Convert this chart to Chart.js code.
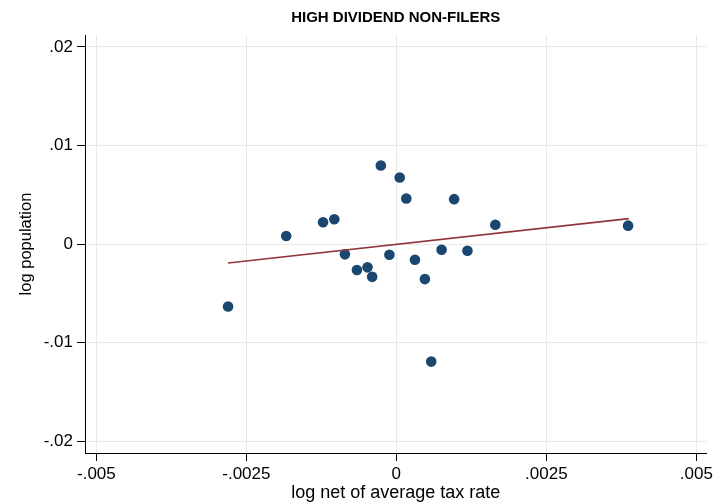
<!DOCTYPE html>
<html>
<head>
<meta charset="utf-8">
<script src="https://cdn.jsdelivr.net/npm/chart.js@4.4.0/dist/chart.umd.min.js"></script>
<style>
    body { margin: 0; background: #fff; }
    canvas { display: block; }
</style>
</head>
<body>
<canvas id="chart" width="716" height="504"></canvas>
<script>
// values
const taxRate = [-0.002805, -0.001836, -0.001222, -0.001034, -0.000857, -0.000657, -0.000481, -0.000403, -0.000259, -0.000116,
    0.000056, 0.000166, 0.000310, 0.000476, 0.000581, 0.000754, 0.000963, 0.001185, 0.001650, 0.003863]
const population = [-0.00634, 0.00081, 0.00221, 0.00251, -0.00105, -0.00264, -0.00237, -0.00333, 0.00797, -0.00109,
    0.00674, 0.00461, -0.00160, -0.00356, -0.01193, -0.00058, 0.00455, -0.00068, 0.00196, 0.00186]
const fitX = [-0.002805, 0.003874]
const fitY = [-0.00193, 0.00257]

const xTickVals = [-0.005, -0.0025, 0, 0.0025, 0.005]
const xTickLabels = ['-.005', '-.0025', '0', '.0025', '.005']
const yTickVals = [-0.02, -0.01, 0, 0.01, 0.02]
const yTickLabels = ['-.02', '-.01', '0', '.01', '.02']

const FONT = "'Liberation Sans', Arial, Helvetica, sans-serif"
const gridColor = '#e9e9e9'

const points = taxRate.map((x, i) => ({ x: x, y: population[i] }))
const fitLine = fitX.map((x, i) => ({ x: x, y: fitY[i] }))

const ctx = document.getElementById('chart').getContext('2d')
const myChart = new Chart(ctx, {
    type: 'scatter',
    data: {
        datasets: [{
            label: 'population',
            data: points,
            backgroundColor: '#1a476f',
            borderColor: '#1a476f',
            pointRadius: 5.3,
            borderWidth: 0,
            order: 2
        }, {
            type: 'line',
            label: 'fit',
            data: fitLine,
            borderColor: '#90353b',
            borderWidth: 1.6,
            pointRadius: 0,
            fill: false,
            order: 1
        }]
    },
    options: {
        responsive: false,
        animation: false,
        layout: { padding: { left: 0, right: 7, top: 0, bottom: 0 } },
        plugins: {
            legend: { display: false },
            tooltip: { enabled: false },
            title: {
                display: true,
                text: 'HIGH DIVIDEND NON-FILERS',
                fullSize: false,
                color: '#000',
                font: { family: FONT, size: 15, weight: 'bold' },
                padding: { top: 9, bottom: 8 }
            }
        },
        scales: {
            x: {
                type: 'linear',
                min: -0.00519,
                max: 0.00517,
                afterBuildTicks: (s) => { s.ticks = xTickVals.map(v => ({ value: v })) },
                afterFit: (s) => { s.height = 51 },
                ticks: {
                    color: '#000',
                    padding: 3,
                    maxRotation: 0,
                    font: { family: FONT, size: 17 },
                    callback: (v, i) => xTickLabels[i]
                },
                grid: { color: gridColor, tickColor: '#000', tickLength: 8, lineWidth: 1 },
                border: { color: '#000', width: 1 },
                title: {
                    display: true,
                    text: 'log net of average tax rate',
                    color: '#000',
                    font: { family: FONT, size: 18 },
                    padding: { top: 0, bottom: 0 }
                }
            },
            y: {
                type: 'linear',
                min: -0.0212,
                max: 0.0212,
                afterBuildTicks: (s) => { s.ticks = yTickVals.map(v => ({ value: v })) },
                afterFit: (s) => { s.width = 85 },
                ticks: {
                    color: '#000',
                    padding: 4,
                    font: { family: FONT, size: 17 },
                    callback: (v, i) => yTickLabels[i]
                },
                grid: { color: gridColor, tickColor: '#000', tickLength: 8, lineWidth: 1 },
                border: { color: '#000', width: 1 },
                title: {
                    display: true,
                    text: 'log population',
                    color: '#000',
                    font: { family: FONT, size: 16.5 },
                    padding: { top: 17, bottom: 0 }
                }
            }
        }
    }
});
</script>
</body>
</html>
